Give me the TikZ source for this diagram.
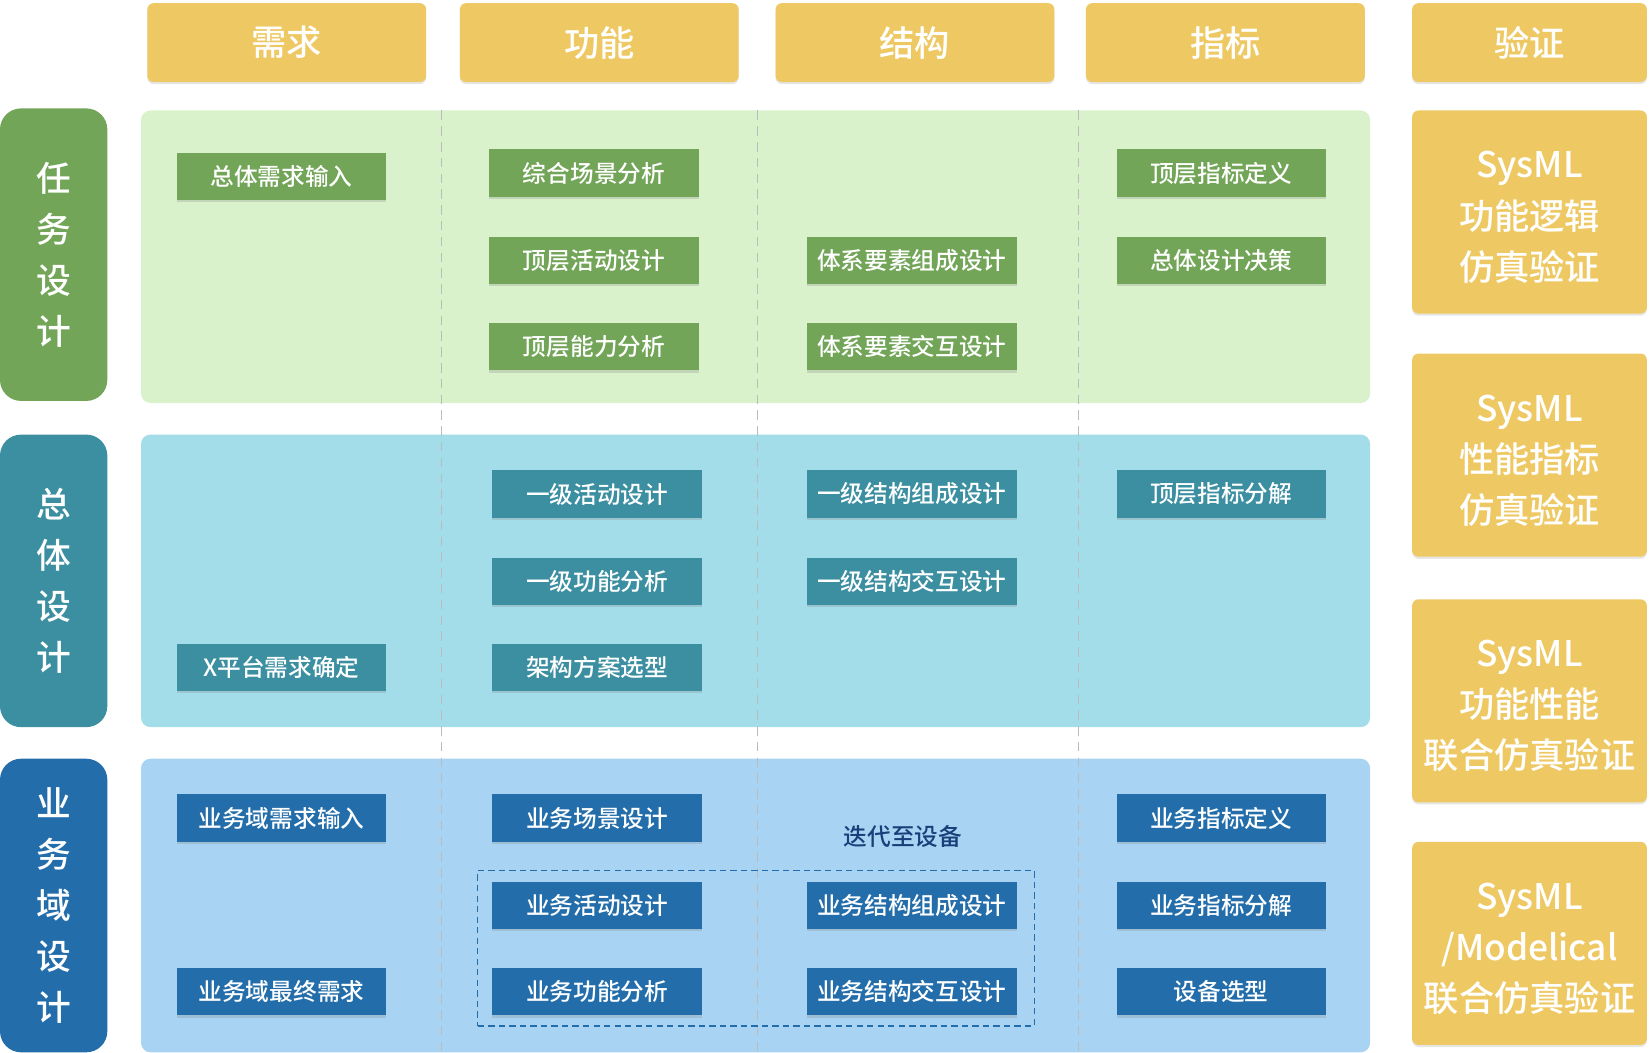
\documentclass[tikz,border=0pt]{standalone}
\usepackage{fontspec}
\setmainfont{Noto Sans CJK SC}
\newfontfamily\medfont{Noto Sans CJK SC Medium}
\usetikzlibrary{shadows}

\definecolor{hdyellow}{HTML}{EEC862}
\definecolor{mgreen}{HTML}{72A557}
\definecolor{lgreen}{HTML}{DAF2CC}
\definecolor{mteal}{HTML}{3B8FA1}
\definecolor{lteal}{HTML}{A3DDE9}
\definecolor{mblue}{HTML}{236EAA}
\definecolor{lblue}{HTML}{A9D3F3}
\definecolor{iterblue}{HTML}{1B3F7A}
\definecolor{sepgray}{HTML}{BBBBBB}

\begin{document}
\begin{tikzpicture}[x=1pt,y=-1pt,
        head/.style={fill=hdyellow,rounded corners=6pt,minimum width=265pt,minimum height=75pt,
            text=white,font=\fontsize{33.5}{33.5}\selectfont\medfont,
            drop shadow={shadow xshift=0pt,shadow yshift=-2pt,opacity=0.2,fill=gray}},
        check/.style={head,minimum width=223pt,minimum height=193pt},
        checktext/.style={align=center,text=white,yshift=-5pt,
            font=\fontsize{33.5}{48.5}\selectfont\medfont},
        rowlabel/.style={rounded corners=20pt,minimum width=102pt,minimum height=278pt,
            text=white,align=center,font=\fontsize{33}{48.5}\selectfont\medfont},
        panel/.style={rounded corners=9pt,minimum width=1168pt,minimum height=278pt},
        item/.style={minimum width=199pt,minimum height=45pt,text=white,
            font=\fontsize{22.5}{22.5}\selectfont\medfont,
            drop shadow={shadow xshift=0pt,shadow yshift=-2pt,opacity=0.25,fill=gray}},
        sep/.style={sepgray,line width=1pt,dash pattern=on 9pt off 6pt}
    ]
        \useasboundingbox (0,0) rectangle (1568,1000);

        % Define the column headers
        \node[head] (need) at (272.5,40.5) {需求};
        \node[head] (func) at (569.5,40.5) {功能};
        \node[head] (struct) at (869.5,40.5) {结构};
        \node[head] (index) at (1164.5,40.5) {指标};
        \node[head,minimum width=223pt] (verify) at (1453.5,40.5) {验证};

        % Define the row labels and panels
        \node[rowlabel,fill=mgreen] (task) at (51,242) {任\\务\\设\\计};
        \node[rowlabel,fill=mteal] (overall) at (51,552) {总\\体\\设\\计};
        \node[rowlabel,fill=mblue,minimum height=279pt] (domain) at (51,860.5) {业\\务\\域\\设\\计};
        \node[panel,fill=lgreen] (taskpanel) at (718,244) {};
        \node[panel,fill=lteal] (overallpanel) at (718,552) {};
        \node[panel,fill=lblue,minimum height=279pt] (domainpanel) at (718,860.5) {};

        % Draw the column separators
        \coordinate (s1a) at (420,105); \coordinate (s1b) at (420,1000);
        \coordinate (s2a) at (720,105); \coordinate (s2b) at (720,1000);
        \coordinate (s3a) at (1025,105); \coordinate (s3b) at (1025,1000);
        \draw[sep] (s1a) -- (s1b);
        \draw[sep] (s2a) -- (s2b);
        \draw[sep] (s3a) -- (s3b);

        % Define the task design steps
        \node[item,fill=mgreen] (t1) at (267.5,167.5) {总体需求输入};
        \node[item,fill=mgreen] (t2) at (564.5,164.5) {综合场景分析};
        \node[item,fill=mgreen] (t3) at (564.5,247.5) {顶层活动设计};
        \node[item,fill=mgreen] (t4) at (564.5,329.5) {顶层能力分析};
        \node[item,fill=mgreen] (t5) at (866.5,247.5) {体系要素组成设计};
        \node[item,fill=mgreen] (t6) at (866.5,329.5) {体系要素交互设计};
        \node[item,fill=mgreen] (t7) at (1160.5,164.5) {顶层指标定义};
        \node[item,fill=mgreen] (t8) at (1160.5,247.5) {总体设计决策};

        % Define the overall design steps
        \node[item,fill=mteal] (o1) at (267.5,634.5) {X平台需求确定};
        \node[item,fill=mteal] (o2) at (567.5,469.5) {一级活动设计};
        \node[item,fill=mteal] (o3) at (567.5,552.5) {一级功能分析};
        \node[item,fill=mteal] (o4) at (567.5,634.5) {架构方案选型};
        \node[item,fill=mteal] (o5) at (866.5,469.5) {一级结构组成设计};
        \node[item,fill=mteal] (o6) at (866.5,552.5) {一级结构交互设计};
        \node[item,fill=mteal] (o7) at (1160.5,469.5) {顶层指标分解};

        % Define the domain design steps
        \node[minimum width=529pt,minimum height=148pt,draw=mblue,line width=1pt,
            dash pattern=on 6pt off 4pt] (iterbox) at (718.5,901) {};
        \node[text=iterblue,font=\fontsize{22.5}{22.5}\selectfont\medfont] (iter) at (858,795) {迭代至设备};
        \node[item,fill=mblue] (d1) at (267.5,777.5) {业务域需求输入};
        \node[item,fill=mblue] (d2) at (267.5,942.5) {业务域最终需求};
        \node[item,fill=mblue] (d3) at (567.5,777.5) {业务场景设计};
        \node[item,fill=mblue] (d4) at (567.5,860.5) {业务活动设计};
        \node[item,fill=mblue] (d5) at (567.5,942.5) {业务功能分析};
        \node[item,fill=mblue] (d6) at (866.5,860.5) {业务结构组成设计};
        \node[item,fill=mblue] (d7) at (866.5,942.5) {业务结构交互设计};
        \node[item,fill=mblue] (d8) at (1160.5,777.5) {业务指标定义};
        \node[item,fill=mblue] (d9) at (1160.5,860.5) {业务指标分解};
        \node[item,fill=mblue] (d10) at (1160.5,942.5) {设备选型};

        % Define the verification boxes
        \node[check,label={[checktext]center:SysML\\功能逻辑\\仿真验证}] (v1) at (1453.5,201.5) {};
        \node[check,label={[checktext]center:SysML\\性能指标\\仿真验证}] (v2) at (1453.5,432.5) {};
        \node[check,label={[checktext]center:SysML\\功能性能\\联合仿真验证}] (v3) at (1453.5,666) {};
        \node[check,label={[checktext]center:SysML\\/Modelical\\联合仿真验证}] (v4) at (1453.5,896.5) {};
    \end{tikzpicture}
\end{document}
